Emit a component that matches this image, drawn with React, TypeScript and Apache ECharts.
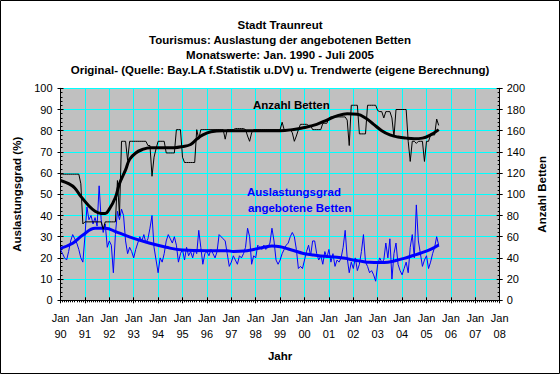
import React, { useEffect, useRef } from "react";
import * as echarts from "echarts";

const FONT = "'Liberation Sans', Arial, Helvetica, sans-serif";

const titleLines = [
  "Stadt Traunreut",
  "Tourismus: Auslastung der angebotenen Betten",
  "Monatswerte: Jan. 1990 - Juli 2005",
  "Original- (Quelle: Bay.LA f.Statistik u.DV) u. Trendwerte (eigene Berechnung)",
];

const startYear = 1990;
const endYear = 2008;

// Anzahl Betten, monthly values Jan 1990 - Jul 2005 (right axis)
const beds1990 = [119, 119, 119, 119, 119, 119, 119, 119, 119, 119, 110, 72];
const beds1991 = [74, 74, 74, 74, 74, 74, 74, 74, 74, 67, 74, 74];
const beds1992 = [74, 74, 74, 74, 113, 80, 150, 150, 150, 132, 150, 150];
const beds1993 = [150, 150, 150, 150, 150, 150, 150, 146, 146, 117, 135, 143];
const beds1994 = [150, 150, 150, 150, 139, 139, 139, 139, 139, 161, 161, 161];
const beds1995 = [135, 130, 130, 130, 130, 130, 130, 161, 152, 161, 161, 161];
const beds1996 = [161, 161, 161, 161, 161, 161, 161, 161, 161, 152, 161, 161];
const beds1997 = [161, 161, 162, 162, 162, 162, 162, 161, 155, 150, 158, 161];
const beds1998 = [161, 161, 161, 161, 161, 161, 161, 161, 161, 161, 161, 161];
const beds1999 = [161, 168, 161, 161, 161, 161, 158, 150, 155, 161, 166, 166];
const beds2000 = [166, 166, 165, 165, 161, 161, 161, 161, 161, 167, 167, 167];
const beds2001 = [172, 173, 173, 173, 173, 173, 173, 173, 173, 170, 146, 184];
const beds2002 = [184, 184, 184, 157, 157, 157, 157, 184, 184, 184, 184, 184];
const beds2003 = [179, 178, 178, 172, 178, 178, 178, 172, 154, 180, 180, 180];
const beds2004 = [180, 180, 180, 150, 131, 150, 150, 148, 150, 150, 150, 131];
const beds2005 = [150, 150, 156, 156, 156, 171, 165];

// Auslastungsgrad (%), monthly values (left axis)
const occ1990 = [24, 22, 20, 19, 23, 28, 31, 29, 27, 24, 20, 18];
const occ1991 = [30, 44, 38, 40, 36, 39, 35, 54, 38, 32, 36, 25];
const occ1992 = [28, 26, 13, 31, 42, 38, 43, 40, 28, 22, 25, 23];
const occ1993 = [20, 24, 27, 30, 28, 31, 27, 29, 34, 40, 25, 19];
const occ1994 = [13, 20, 18, 22, 28, 31, 29, 27, 30, 26, 18, 22];
const occ1995 = [24, 19, 25, 21, 23, 20, 24, 22, 33, 25, 17, 22];
const occ1996 = [23, 21, 24, 22, 20, 23, 31, 30, 29, 28, 22, 16];
const occ1997 = [18, 21, 19, 17, 21, 20, 22, 25, 34, 30, 17, 21];
const occ1998 = [20, 26, 25, 24, 26, 24, 25, 27, 34, 28, 19, 17];
const occ1999 = [19, 22, 24, 26, 27, 30, 32, 30, 24, 15, 16, 15];
const occ2000 = [19, 23, 26, 21, 28, 28, 22, 19, 21, 17, 23, 20];
const occ2001 = [24, 18, 22, 16, 19, 18, 20, 25, 33, 20, 13, 18];
const occ2002 = [15, 20, 14, 17, 23, 31, 18, 16, 13, 14, 12, 9];
const occ2003 = [17, 20, 18, 19, 27, 20, 29, 10, 22, 27, 17, 14];
const occ2004 = [12, 15, 18, 13, 25, 31, 20, 45, 28, 22, 16, 19];
const occ2005 = [21, 15, 18, 22, 25, 30, 26];

// Trend values: [month index from Jan 1990, value]
const bedsTrend: [number, number][] = [
  [0, 113], [4, 110], [7, 106], [10, 98], [14, 89], [17, 84], [20, 82], [22, 82],
  [24, 86], [27, 97], [29, 110], [32, 123], [34, 133], [37, 139], [40, 142], [44, 144],
  [50, 144], [56, 144], [60, 145], [64, 147], [67, 152], [70, 156], [74, 159], [80, 160],
  [90, 160], [100, 160], [108, 160], [114, 161], [120, 163], [126, 166], [131, 170],
  [136, 174], [141, 176], [146, 175.5], [150, 172], [154, 166], [158, 160], [162, 156],
  [166, 154], [170, 153], [174, 152.5], [178, 153], [182, 156], [186, 161],
];

const occTrend: [number, number][] = [
  [0, 24.5], [6, 26.9], [11, 30.8], [17, 34], [22, 34], [28, 32], [36, 29.2], [44, 26.9],
  [52, 25], [60, 23.7], [72, 23.4], [82, 23.4], [85, 23], [90, 23.2], [95, 24], [100, 25],
  [104, 25.6], [108, 25.3], [111, 24.5], [115, 23.4], [119, 22.2], [124, 21.4], [128, 20.9],
  [136, 20.3], [140, 19.8], [144, 19], [148, 18.4], [152, 17.9], [157, 17.8], [161, 18],
  [165, 18.8], [169, 19.8], [173, 21], [177, 22.2], [182, 24], [186, 26.1],
];

const bedsRaw = [
  ...beds1990, ...beds1991, ...beds1992, ...beds1993, ...beds1994, ...beds1995, ...beds1996,
  ...beds1997, ...beds1998, ...beds1999, ...beds2000, ...beds2001, ...beds2002, ...beds2003,
  ...beds2004, ...beds2005,
];
const occRaw = [
  ...occ1990, ...occ1991, ...occ1992, ...occ1993, ...occ1994, ...occ1995, ...occ1996,
  ...occ1997, ...occ1998, ...occ1999, ...occ2000, ...occ2001, ...occ2002, ...occ2003,
  ...occ2004, ...occ2005,
];

const toX = (m: number) => startYear + m / 12;

export default function App() {
  const ref = useRef<HTMLDivElement>(null);
  useEffect(() => {
    document.body.style.margin = "0";
    if (!ref.current) return;
    const chart = echarts.init(ref.current, undefined, { renderer: "svg" });
    const black = "#000000";
    const blue = "#0000FF";
    const cyan = "#00FFFF";
    const lbl = { fontFamily: FONT, fontSize: 11, color: black };
    const boldFont = `bold 11.5px ${FONT}`;
    const dupX = {
      type: "value" as const,
      min: startYear,
      max: endYear,
      interval: 1,
      position: "bottom" as const,
      axisLine: { show: false },
      axisTick: { show: true, inside: true, length: 3, lineStyle: { color: black } },
      axisLabel: { show: false },
      splitLine: { show: false },
    };
    const option: any = {
      animation: false,
      backgroundColor: "#FFFFFF",
      title: {
        text: titleLines.join("\n"),
        left: "center",
        top: 12,
        textStyle: { fontFamily: FONT, fontSize: 11.5, fontWeight: "bold", color: black, lineHeight: 15 },
      },
      grid: {
        left: 60.5,
        right: 60.3,
        top: 88.3,
        bottom: 73.7,
        show: true,
        backgroundColor: "#C0C0C0",
        borderWidth: 0,
      },
      xAxis: [
        {
          type: "value",
          min: startYear,
          max: endYear,
          interval: 1,
          position: "bottom",
          name: "Jahr",
          nameLocation: "middle",
          nameGap: 50,
          nameTextStyle: { ...lbl, fontSize: 11.5, fontWeight: "bold" },
          axisLine: { show: true, lineStyle: { color: black, width: 1 } },
          axisTick: { show: true, inside: false, length: 3, lineStyle: { color: black } },
          minorTick: { show: true, splitNumber: 12, length: 2, lineStyle: { color: black } },
          axisLabel: {
            ...lbl,
            lineHeight: 16,
            margin: 10,
            formatter: (v: number) => "Jan\n" + String(v).slice(2),
          },
          splitLine: { show: true, lineStyle: { color: cyan, width: 1 } },
        },
        dupX,
      ],
      yAxis: [
        {
          type: "value",
          min: 0,
          max: 100,
          interval: 10,
          position: "left",
          name: "Auslastungsgrad (%)",
          nameLocation: "middle",
          nameRotate: 90,
          nameGap: 34,
          nameTextStyle: { ...lbl, fontSize: 11.5, fontWeight: "bold" },
          axisLine: { show: true, lineStyle: { color: black, width: 1 } },
          axisTick: { show: true, inside: false, length: 3, lineStyle: { color: black } },
          axisLabel: { ...lbl, margin: 8 },
          splitLine: { show: true, lineStyle: { color: cyan, width: 1 } },
        },
        {
          type: "value",
          min: 0,
          max: 200,
          interval: 20,
          position: "right",
          name: "Anzahl Betten",
          nameLocation: "middle",
          nameRotate: 90,
          nameGap: 34,
          nameTextStyle: { ...lbl, fontSize: 11.5, fontWeight: "bold" },
          axisLine: { show: true, lineStyle: { color: black, width: 1 } },
          axisTick: { show: true, inside: false, length: 3, lineStyle: { color: black } },
          axisLabel: { ...lbl, margin: 7 },
          splitLine: { show: false },
        },
        {
          type: "value",
          min: 0,
          max: 100,
          interval: 10,
          position: "left",
          axisLine: { show: false },
          axisTick: { show: true, inside: true, length: 3, lineStyle: { color: black } },
          minorTick: { show: true, splitNumber: 5, length: 2, lineStyle: { color: black } },
          axisLabel: { show: false },
          splitLine: { show: false },
        },
        {
          type: "value",
          min: 0,
          max: 200,
          interval: 20,
          position: "right",
          axisLine: { show: false },
          axisTick: { show: true, inside: true, length: 3, lineStyle: { color: black } },
          minorTick: { show: true, splitNumber: 5, length: 2, lineStyle: { color: black } },
          axisLabel: { show: false },
          splitLine: { show: false },
        },
      ],
      series: [
        {
          name: "Auslastungsgrad",
          type: "line",
          xAxisIndex: 0,
          yAxisIndex: 0,
          symbol: "none",
          lineStyle: { color: blue, width: 1 },
          data: occRaw.map((v, i) => [toX(i), v]),
        },
        {
          name: "Auslastungsgrad Trend",
          type: "line",
          xAxisIndex: 0,
          yAxisIndex: 0,
          symbol: "none",
          smooth: 0.4,
          lineStyle: { color: blue, width: 3 },
          data: occTrend.map(([m, v]) => [toX(m), v]),
        },
        {
          name: "Anzahl Betten",
          type: "line",
          xAxisIndex: 0,
          yAxisIndex: 1,
          symbol: "none",
          lineStyle: { color: black, width: 1 },
          data: bedsRaw.map((v, i) => [toX(i), v]),
        },
        {
          name: "Anzahl Betten Trend",
          type: "line",
          xAxisIndex: 0,
          yAxisIndex: 1,
          symbol: "none",
          smooth: 0.4,
          lineStyle: { color: black, width: 3 },
          data: bedsTrend.map(([m, v]) => [toX(m), v]),
        },
      ],
      graphic: [
        {
          type: "rect",
          silent: true,
          shape: { x: 0.5, y: 0.5, width: 559, height: 373 },
          style: { fill: "none", stroke: black, lineWidth: 1 },
          z: 100,
        },
        {
          type: "text",
          x: 253,
          y: 105,
          style: { text: "Anzahl Betten", font: boldFont, fill: black, verticalAlign: "middle" },
          z: 100,
        },
        {
          type: "text",
          x: 247,
          y: 192,
          style: { text: "Auslastungsgrad", font: boldFont, fill: blue, verticalAlign: "middle" },
          z: 100,
        },
        {
          type: "text",
          x: 248,
          y: 208,
          style: { text: "angebotene Betten", font: boldFont, fill: blue, verticalAlign: "middle" },
          z: 100,
        },
      ],
    };
    chart.setOption(option);
    return () => chart.dispose();
  }, []);
  return <div ref={ref} style={{ width: 560, height: 374 }} />;
}
